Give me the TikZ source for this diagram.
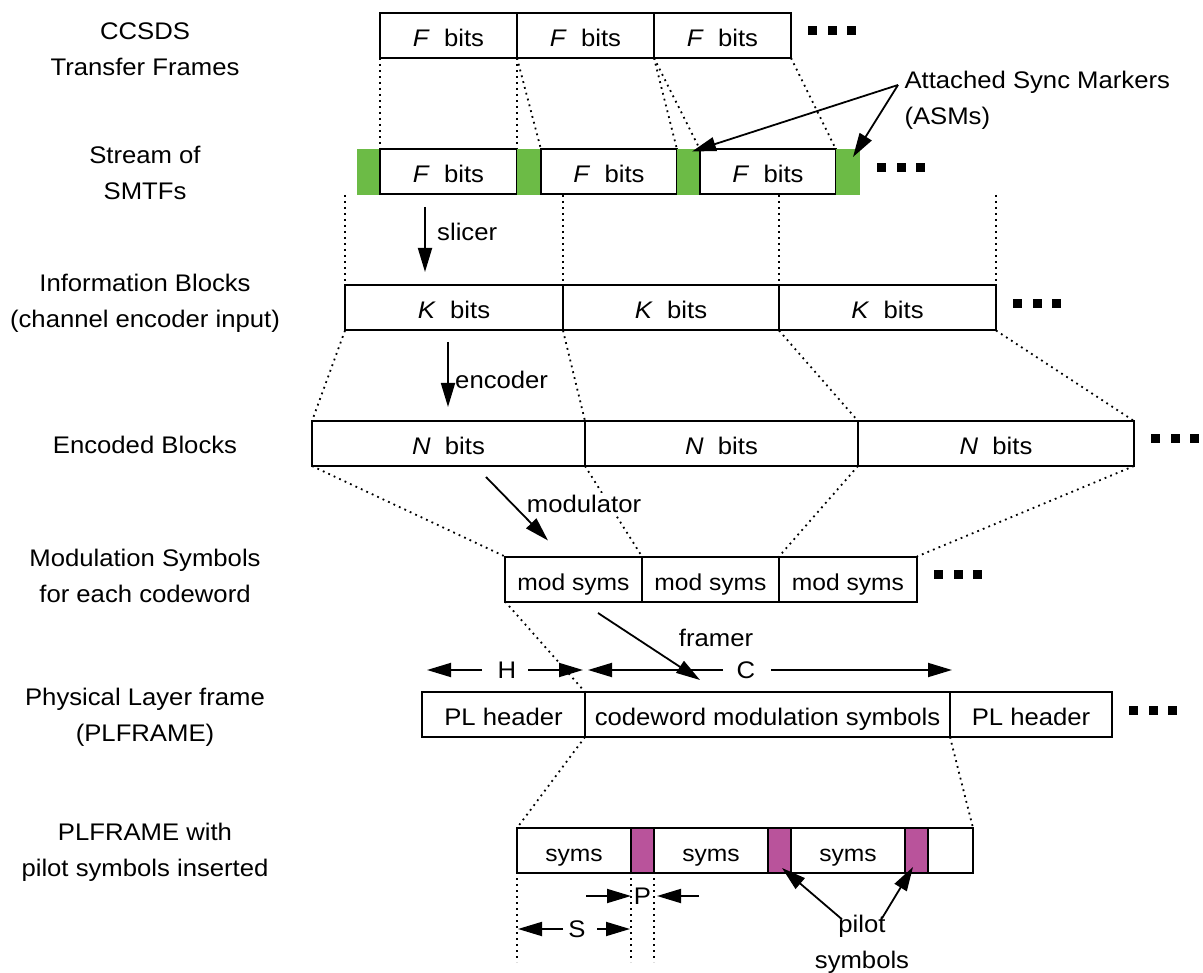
\documentclass[tikz,border=0pt]{standalone}
\usepackage{fontspec}
\setmainfont{Liberation Sans}[FakeStretch=1.07]
\usepackage{xcolor}
\usetikzlibrary{positioning}
\usetikzlibrary{calc}
\usetikzlibrary{arrows.meta}

\definecolor{asmgreen}{RGB}{108,187,70}
\definecolor{pilotpink}{RGB}{185,83,155}

\tikzset{
  seg/.style={draw, line width=2pt, minimum height=45pt, inner sep=0pt, outer sep=0pt,
    text height=25pt, text depth=3pt},
  asm/.style={fill=asmgreen, minimum height=46pt, inner sep=0pt, outer sep=0pt},
  pil/.style={seg, fill=pilotpink},
  small/.style={font=\fontsize{23}{26}\selectfont},
  dotline/.style={line width=1.8pt, dash pattern=on 1.8pt off 4.2pt},
  flow/.style={line width=1.8pt, -{Triangle[length=24pt,width=14pt]}},
  rowlabel/.style={align=center},
}
\newcommand{\moredots}[1]{\foreach \dx in {0,19.5,39} \fill ($(#1.east)+(17+\dx,-9)$) rectangle +(9,9);}

\begin{document}
\begin{tikzpicture}[x=1pt, y=-1pt, font=\fontsize{24}{36}\selectfont]
\useasboundingbox (0,0) rectangle (1203,973);

% Row labels
\node[rowlabel] (ccsds) at (145,49)  {CCSDS\\Transfer Frames};
\node[rowlabel] (smtf)  at (145,173) {Stream of\\SMTFs};
\node[rowlabel] (info)  at (145,303) {Information Blocks\\(channel encoder input)};
\node[rowlabel] (enc)   at (145,445) {Encoded Blocks};
\node[rowlabel] (modl)  at (145,576) {Modulation Symbols\\for each codeword};
\node[rowlabel] (plf)   at (145,717) {Physical Layer frame\\(PLFRAME)};
\node[rowlabel] (plfp)  at (145,852) {PLFRAME with\\pilot symbols inserted};

% Transfer frames
\node[seg, minimum width=137] (f1) at (448.5,35.5) {\textit{F}\ \ bits};
\node[seg, minimum width=137, right=0pt of f1] (f2) {\textit{F}\ \ bits};
\node[seg, minimum width=137, right=0pt of f2] (f3) {\textit{F}\ \ bits};
\moredots{f3}

% SMTF stream
\node[asm, minimum width=23] (a1) at (368.5,172) {};
\node[seg, minimum width=137, right=0pt of a1] (s1) {\textit{F}\ \ bits};
\node[asm, minimum width=24, right=0pt of s1] (a2) {};
\node[seg, minimum width=136, right=0pt of a2] (s2) {\textit{F}\ \ bits};
\node[asm, minimum width=23, right=0pt of s2] (a3) {};
\node[seg, minimum width=136, right=0pt of a3] (s3) {\textit{F}\ \ bits};
\node[asm, minimum width=24, right=0pt of s3] (a4) {};
\moredots{a4}

% Information blocks
\node[seg, minimum width=218] (k1) at (454,308) {\textit{K}\ \ bits};
\node[seg, minimum width=216, right=0pt of k1] (k2) {\textit{K}\ \ bits};
\node[seg, minimum width=217, right=0pt of k2] (k3) {\textit{K}\ \ bits};
\moredots{k3}

% Encoded blocks
\node[seg, minimum width=273] (n1) at (448.5,443.5) {\textit{N}\ \ bits};
\node[seg, minimum width=273, right=0pt of n1] (n2) {\textit{N}\ \ bits};
\node[seg, minimum width=276, right=0pt of n2] (n3) {\textit{N}\ \ bits};
\moredots{n3}

% Modulation symbols
\node[seg, small, minimum width=137] (m1) at (573.5,579) {mod syms};
\node[seg, small, minimum width=137, right=0pt of m1] (m2) {mod syms};
\node[seg, small, minimum width=138, right=0pt of m2] (m3) {mod syms};
\moredots{m3}

% PLFRAME
\node[seg, minimum width=163] (p1) at (503.5,714.5) {PL header};
\node[seg, minimum width=365, right=0pt of p1] (p2) {codeword modulation symbols};
\node[seg, minimum width=162, right=0pt of p2] (p3) {PL header};
\moredots{p3}

% PLFRAME with pilots
\node[seg, small, minimum width=114] (y1) at (574,850.5) {syms};
\node[pil, minimum width=23, right=0pt of y1] (q1) {};
\node[seg, small, minimum width=114, right=0pt of q1] (y2) {syms};
\node[pil, minimum width=23, right=0pt of y2] (q2) {};
\node[seg, small, minimum width=114, right=0pt of q2] (y3) {syms};
\node[pil, minimum width=23, right=0pt of y3] (q3) {};
\node[seg, minimum width=45, right=0pt of q3] (y4) {};

% Dotted mapping lines
\draw[dotline] (f1.south west) -- (s1.north west);
\draw[dotline] (f1.south east) -- (s1.north east);
\draw[dotline] (f2.south west) -- (s2.north west);
\draw[dotline] (f2.south east) -- (s2.north east);
\draw[dotline] (f3.south west) -- (s3.north west);
\draw[dotline] (f3.south east) -- (s3.north east);

\draw[dotline] (k1.north west |- a1.south) -- (k1.north west);
\draw[dotline] (k1.north east |- a1.south) -- (k1.north east);
\draw[dotline] (k2.north east |- a1.south) -- (k2.north east);
\draw[dotline] (k3.north east |- a1.south) -- (k3.north east);

\draw[dotline] (k1.south west) -- (n1.north west);
\draw[dotline] (k1.south east) -- (n2.north west);
\draw[dotline] (k2.south east) -- (n3.north west);
\draw[dotline] (k3.south east) -- (n3.north east);

\draw[dotline] (n1.south west) -- (m1.north west);
\draw[dotline] (n1.south east) -- (m2.north west);
\draw[dotline] (n2.south east) -- (m3.north west);
\draw[dotline] (n3.south east) -- (m3.north east);

\draw[dotline] (m1.south west) -- (p2.north west);

\draw[dotline] (p2.south west) -- (y1.north west);
\draw[dotline] (p2.south east) -- (y4.north east);

% Processing steps
\coordinate (slA) at ($(s1.south west)+(45,12.5)$);
\coordinate (slB) at ($(k1.north west)+(80,-13.5)$);
\draw[flow] (slA) -- node[pos=0.38, right=8pt] (slicer) {slicer} (slB);

\coordinate (enA) at ($(k1.south west)+(103,11.5)$);
\coordinate (enB) at ($(n1.north west)+(136,-14)$);
\draw[flow] (enA) -- node[pos=0.58, right=3pt] (encoder) {encoder} (enB);

\coordinate (moA) at ($(n1.south west)+(174,11)$);
\coordinate (moB) at ($(m1.north west)+(43,-16)$);
\draw[flow] (moA) -- node[pos=0.42, right=12pt, fill=white, inner sep=2pt] (modulator) {modulator} (moB);

\coordinate (frA) at ($(m1.south west)+(93,11.5)$);
\coordinate (frB) at ($(p2.north west)+(115,-12)$);
\draw[flow] (frA) -- (frB);
\node (framer) at ($(m2.south)+(5.5,36.5)$) {framer};

% Sync marker callout
\node[align=left, anchor=west] (asmlab) at ($(f3.east)+(110,64.5)$) {Attached Sync Markers\\(ASMs)};
\coordinate (asmtail) at ($(asmlab.west)+(-3,-15)$);
\draw[flow] (asmtail) -- ($(a3.north)+(3.5,2.5)$);
\draw[flow] (asmtail) -- ($(a4.north)+(5,8)$);

% H and C spans
\node (hdim) at ($(p1.north)+(3.5,-22)$) {H};
\node (cdim) at ($(p2.north)+(-21.5,-22)$) {C};
\draw[flow] ($(hdim)+(-25,0)$) -- ($(p1.west |- hdim)+(5,0)$);
\draw[flow] ($(hdim)+(21,0)$) -- ($(p1.east |- hdim)+(-2,0)$);
\draw[flow] ($(cdim)+(-23,0)$) -- ($(p2.west |- cdim)+(3,0)$);
\draw[flow] ($(cdim)+(25,0)$) -- ($(p2.east |- cdim)+(2,0)$);

% S and P spans
\coordinate (dimbot) at (0,962);
\draw[dotline] ([yshift=-5pt]y1.south west) -- (y1.south west |- dimbot);
\draw[dotline] ([yshift=-5pt]q1.south west) -- (q1.south west |- dimbot);
\draw[dotline] ([yshift=-5pt]q1.south east) -- (q1.south east |- dimbot);
\node (pdim) at ($(q1.south)+(0,23)$) {P};
\draw[flow] ($(q1.west |- pdim)+(-45,0)$) -- (q1.west |- pdim);
\draw[flow] ($(q1.east |- pdim)+(45,0)$) -- ($(q1.east |- pdim)+(3,0)$);
\node (sdim) at ($(y1.south)+(3,56)$) {S};
\draw[flow] ($(sdim)+(-14,0)$) -- ($(y1.west |- sdim)+(1,0)$);
\draw[flow] ($(sdim)+(20,0)$) -- ($(q1.west |- sdim)+(-1,0)$);

% Pilot callout
\node[align=center] (pilotlab) at ($(y3.south)+(14,71)$) {pilot\\symbols};
\draw[flow] ($(pilotlab.north)+(-20,8)$) -- ($(q2.south)+(2.5,-5)$);
\draw[flow] ($(pilotlab.north)+(20,7)$) -- ($(q3.south)+(-3.5,-6)$);
\end{tikzpicture}
\end{document}
